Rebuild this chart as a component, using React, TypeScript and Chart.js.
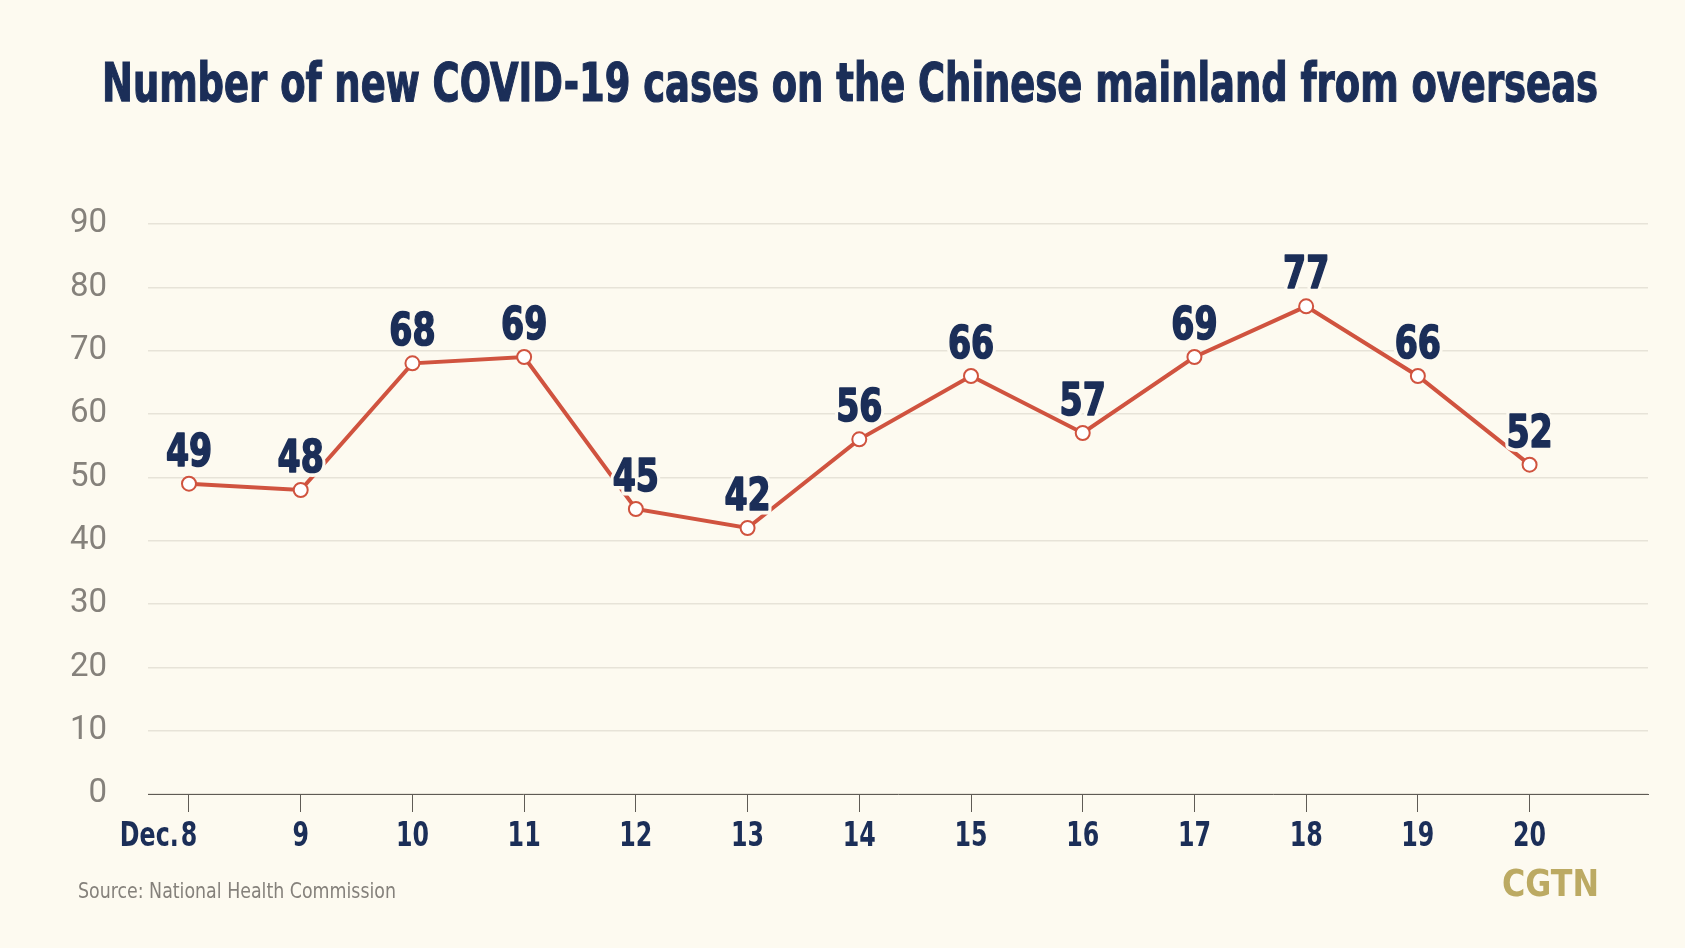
import React, { useEffect, useRef } from "react";
import { Chart, registerables } from "chart.js";

Chart.register(...registerables);

const title = "Number of new COVID-19 cases on the Chinese mainland from overseas";
const source = "Source: National Health Commission";
const brand = "CGTN";
const monthPrefix = "Dec.";
const dayLabels = ["8", "9", "10", "11", "12", "13", "14", "15", "16", "17", "18", "19", "20"];
const newCases = [49, 48, 68, 69, 45, 42, 56, 66, 57, 69, 77, 66, 52];
const yMin = 0;
const yMax = 90;
const yStep = 10;

const BG = "#fdfaf0";
const NAVY = "#1b2e58";
const RED = "#d0533f";
const GRAY = "#85817b";
const COND = "'DejaVu Sans Condensed', 'Liberation Sans Narrow', Roboto, sans-serif";

function squeezedText(ctx: any, txt: string, x: number, y: number, sx: number, align: string, halo?: number, bold?: number) {
  ctx.save();
  ctx.translate(x, y);
  ctx.scale(sx, 1);
  ctx.textAlign = align;
  ctx.lineJoin = "round";
  if (halo) {
    ctx.strokeStyle = BG;
    ctx.lineWidth = halo;
    ctx.strokeText(txt, 0, 0);
  }
  ctx.fillText(txt, 0, 0);
  if (bold) {
    ctx.strokeStyle = ctx.fillStyle;
    ctx.lineWidth = bold;
    ctx.strokeText(txt, 0, 0);
  }
  ctx.restore();
}

const textPlugin = {
  id: "textPlugin",
  beforeDraw(chart: any) {
    const ctx = chart.ctx;
    ctx.save();
    ctx.fillStyle = BG;
    ctx.fillRect(0, 0, chart.width, chart.height);
    ctx.restore();
  },
  afterDraw(chart: any) {
    const ctx = chart.ctx;
    ctx.save();
    ctx.textBaseline = "alphabetic";

    // title
    ctx.fillStyle = NAVY;
    ctx.strokeStyle = NAVY;
    ctx.lineWidth = 1.2;
    ctx.font = `bold 53px ${COND}`;
    ctx.textAlign = "center";
    ctx.fillText(title, 850, 101, 1496);
    ctx.strokeText(title, 850, 101, 1496);

    // source
    ctx.fillStyle = GRAY;
    ctx.font = `21px ${COND}`;
    ctx.textAlign = "left";
    ctx.fillText(source, 78, 898, 318);

    // brand
    ctx.fillStyle = "#bcaa63";
    ctx.font = `bold 37px ${COND}`;
    ctx.fillText(brand, 1502, 896, 97);

    // x-axis labels
    const xs = chart.scales.x;
    ctx.fillStyle = NAVY;
    ctx.font = `bold 33px ${COND}`;
    dayLabels.forEach((d, i) => {
      const px = xs.getPixelForValue(i);
      squeezedText(ctx, d, px, 846, 0.8, "center");
      if (i === 0) {
        const w = ctx.measureText(d).width * 0.8;
        squeezedText(ctx, monthPrefix, px - w / 2 - 2, 846, 0.8, "right");
      }
    });

    // data labels
    const meta = chart.getDatasetMeta(0);
    ctx.font = `bold 45px ${COND}`;
    meta.data.forEach((pt: any, i: number) => {
      const txt = String(newCases[i]);
      ctx.fillStyle = NAVY;
      squeezedText(ctx, txt, pt.x, pt.y - 18, 0.82, "center", 9, 1.6);
    });
    ctx.restore();
  },
};

export default function App() {
  const ref = useRef<HTMLCanvasElement>(null);
  useEffect(() => {
    if (!ref.current) return;
    const chart = new Chart(ref.current, {
      type: "line",
      data: {
        datasets: [
          {
            data: newCases.map((v, i) => ({ x: i, y: v })),
            borderColor: RED,
            borderWidth: 4,
            pointRadius: 7,
            pointBorderWidth: 2,
            pointBackgroundColor: "#ffffff",
            pointBorderColor: RED,
            tension: 0,
          },
        ],
      },
      options: {
        responsive: false,
        animation: false,
        events: [],
        layout: { padding: { top: 224, right: 37, left: 0, bottom: 0 } },
        plugins: { legend: { display: false }, tooltip: { enabled: false }, title: { display: false } },
        scales: {
          x: {
            type: "linear",
            min: -0.367,
            max: 13.06,
            afterBuildTicks: (s: any) => {
              s.ticks = dayLabels.map((_, i) => ({ value: i }));
            },
            afterFit: (s: any) => {
              s.height = 154;
            },
            ticks: { display: false, autoSkip: false },
            grid: { drawOnChartArea: false, drawTicks: true, tickLength: 18, color: "#5f5b55", lineWidth: 1 },
            border: { display: true, color: "#5f5b55", width: 1 },
          },
          y: {
            min: yMin,
            max: yMax,
            afterFit: (s: any) => {
              s.width = 148;
            },
            ticks: {
              stepSize: yStep,
              padding: 41,
              color: GRAY,
              font: { family: "Roboto, sans-serif", size: 33, weight: 400 },
            },
            grid: { drawTicks: false, color: "#e7e3d8", lineWidth: 1.5 },
            border: { display: false },
          },
        },
      },
      plugins: [textPlugin],
    } as any);
    return () => chart.destroy();
  }, []);
  return (
    <div style={{ position: "absolute", left: 0, top: 0, width: 1685, height: 948, background: BG }}>
      <canvas ref={ref} width={1685} height={948} />
    </div>
  );
}
